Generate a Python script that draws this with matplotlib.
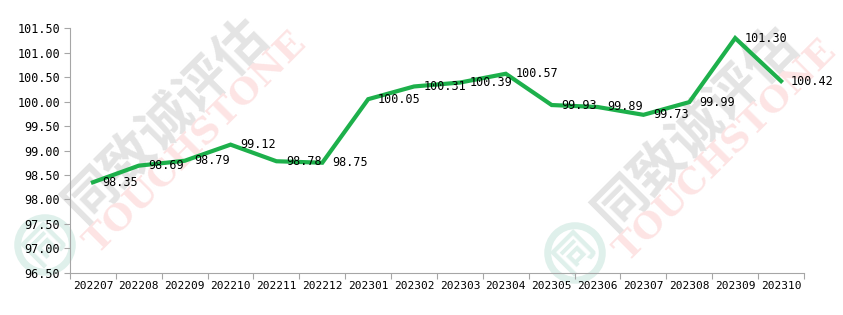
import matplotlib.pyplot as plt
import numpy as np

months = ["202207", "202208", "202209", "202210", "202211", "202212",
          "202301", "202302", "202303", "202304", "202305", "202306",
          "202307", "202308", "202309", "202310"]
index_vals = [98.35, 98.69, 98.79, 99.12, 98.78, 98.75,
              100.05, 100.31, 100.39, 100.57, 99.93, 99.89,
              99.73, 99.99, 101.30, 100.42]
y_ticks = [96.5, 97.0, 97.5, 98.0, 98.5, 99.0, 99.5, 100.0, 100.5, 101.0, 101.5]

W, H = 843, 315
fig = plt.figure(figsize=(W / 100, H / 100), dpi=100)
ax = fig.add_axes([70 / W, 1 - 272.7 / H, (804 - 70) / W, (272.7 - 28.3) / H])
ax.set_zorder(2)
ax.patch.set_alpha(0)

# watermarks (behind the axes)
def wm(cx, cy):
    fig.text(cx / W, 1 - cy / H, "同致诚评估", family=["Noto Sans CJK SC"], fontsize=38,
             fontweight="bold", color="#e4e4e4", rotation=45, ha="center", va="center", zorder=0)
    fig.text((cx + 30) / W, 1 - (cy + 22) / H, "TOUCHSTONE", family=["DejaVu Serif"], fontsize=26,
             fontweight="bold", color="#fde4e4", rotation=45, ha="center", va="center", zorder=0)
    fig.text((cx - 120) / W, 1 - (cy + 125) / H, "同", family=["Noto Sans CJK SC"], fontsize=28,
             fontweight="bold", color="#dff0eb", rotation=45, ha="center", va="center", zorder=0,
             bbox=dict(boxstyle="circle,pad=0.2", fc="none", ec="#dff0eb", lw=5))

wm(165, 120)
wm(695, 128)

x = np.arange(len(months))
ax.plot(x, index_vals, color="#1db04b", lw=3.0, solid_joinstyle="miter", zorder=3)
for xi, v in zip(x, index_vals):
    ax.annotate(f"{v:.2f}", (xi, v), xytext=(7, 0), textcoords="offset points",
                ha="left", va="center", fontsize=8.5, family="DejaVu Sans Mono", color="black", zorder=4)

ax.set_xlim(-0.5, len(months) - 0.5)
ax.set_ylim(96.5, 101.5)
ax.set_yticks(y_ticks)
ax.set_yticklabels([f"{t:.2f}" for t in y_ticks], family="DejaVu Sans Mono", fontsize=8.5)
ax.set_xticks(np.arange(-0.5, len(months), 1.0))
ax.set_xticklabels([])
ax.set_xticks(x, minor=True)
ax.set_xticklabels(months, minor=True, family="DejaVu Sans Mono", fontsize=8)
ax.tick_params(axis="x", which="minor", length=0, pad=6)
ax.tick_params(axis="x", which="major", length=4, color="#a6a6a6")
ax.tick_params(axis="y", length=4, color="#a6a6a6", pad=3)
for s in ["top", "right"]:
    ax.spines[s].set_visible(False)
for s in ["left", "bottom"]:
    ax.spines[s].set_color("#a6a6a6")

fig.savefig("out.png", dpi=100)
